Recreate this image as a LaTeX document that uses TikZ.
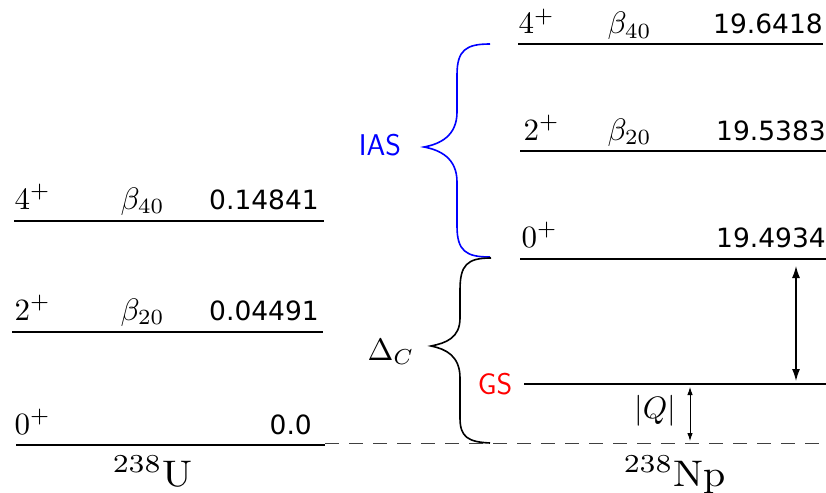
\documentclass[tikz,border=0pt]{standalone}
\usepackage{fontspec}
\newfontfamily\numfont{DejaVu Sans}
\usetikzlibrary{arrows.meta}
\begin{document}
\begin{tikzpicture}[x=1pt,y=-1pt,
  lvl/.style={line width=1.6pt},
  lm/.style={scale=3.1, inner sep=0pt},
  nuc/.style={xscale=4, yscale=3.7, inner sep=0pt},
  num/.style={font=\numfont\fontsize{26.5}{32}\selectfont, inner sep=0pt},
  lab/.style={font=\sffamily\fontsize{30}{36}\selectfont, inner sep=0pt},
  brace/.style={line width=1.6pt}]
\useasboundingbox (0,0) rectangle (826,492);
% ---- 238U levels
\draw[lvl] (14,221) -- (324,221);
\draw[lvl] (12,332) -- (323,332);
\draw[lvl] (16,445) -- (325,445);
\node[lm, anchor=base west] (u4) at (14,209) {$4^+$};
\node[lm, anchor=base west] (ub4) at (120,209) {$\beta_{40}$};
\node[num, anchor=base east] (uv4) at (319,209) {0.14841};
\node[lm, anchor=base west] (u2) at (14,320) {$2^+$};
\node[lm, anchor=base west] (ub2) at (120,320) {$\beta_{20}$};
\node[num, anchor=base east] (uv2) at (319,320) {0.04491};
\node[lm, anchor=base west] (u0) at (14,434) {$0^+$};
\node[num, anchor=base east] (uv0) at (312,434) {0.0};
\node[nuc, anchor=base west] (U) at (112,486) {${}^{238}\mathrm{U}$};
% ---- dashed reference
\draw[dashed, dash pattern=on 14pt off 10pt, line width=1pt, black!75] (325,443) -- (826,443);
% ---- 238Np levels
\draw[lvl] (518,44) -- (823,44);
\draw[lvl] (520,151) -- (826,151);
\draw[lvl] (520,259) -- (826,259);
\draw[lvl] (524,384) -- (826,384);
\node[lm, anchor=base west] (n4) at (518,34) {$4^+$};
\node[lm, anchor=base west] (nb4) at (607,34) {$\beta_{40}$};
\node[num, anchor=base east] (nv4) at (823,34) {19.6418};
\node[lm, anchor=base west] (n2) at (523,140) {$2^+$};
\node[lm, anchor=base west] (nb2) at (607,140) {$\beta_{20}$};
\node[num, anchor=base east] (nv2) at (826,140) {19.5383};
\node[lm, anchor=base west] (n0) at (521,247) {$0^+$};
\node[num, anchor=base east] (nv0) at (826,247) {19.4934};
\node[nuc, anchor=base west] (Np) at (623,486) {${}^{238}\mathrm{Np}$};
% ---- braces
\draw[brace, blue] (490,44) .. controls (466,44) and (457,50) .. (457,75) -- (457,112)
   .. controls (457,136) and (440,144) .. (424,147)
   .. controls (440,150) and (457,158) .. (457,182) -- (457,226)
   .. controls (457,251) and (466,257) .. (490,257);
\draw[brace] (491,258) .. controls (467,258) and (460,265) .. (460,290) -- (460,318)
   .. controls (460,338) and (446,343) .. (431,346)
   .. controls (446,349) and (460,356) .. (460,378) -- (460,418)
   .. controls (460,437) and (468,442) .. (490,443);
\node[lab, text=blue] (ias) at (380,145) {IAS};
\node[lm] (dc) at (391,352) {$\Delta_C$};
\node[lab, text=red] (gs) at (495,384) {GS};
% ---- arrows
\coordinate (a1) at (796,266);
\coordinate (a2) at (796,381);
\coordinate (b1) at (690,387);
\coordinate (b2) at (690,441);
\draw[line width=1.2pt, {Latex[length=12pt,width=8pt]}-{Latex[length=12pt,width=8pt]}] (a1) -- (a2);
\draw[line width=0.9pt, {Latex[length=8pt,width=5.5pt]}-{Latex[length=8pt,width=5.5pt]}] (b1) -- (b2);
\node[lm] (q) at (655,411) {$|Q|$};
\end{tikzpicture}
\end{document}
